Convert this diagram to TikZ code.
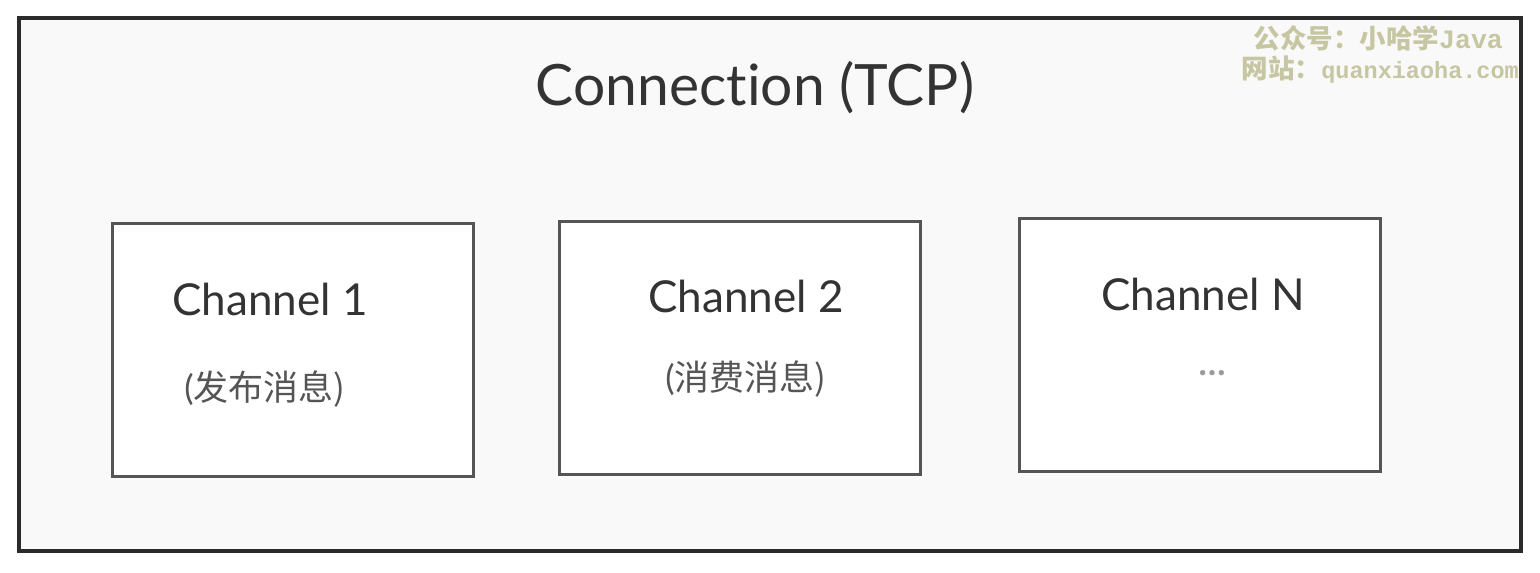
\documentclass[tikz,border=0pt]{standalone}
\usepackage{fontspec}
\setmainfont{Lato}[Ligatures=NoCommon]
\newfontfamily\cjk{Noto Sans CJK SC}
\newfontfamily\cjkbold{Noto Sans CJK SC Bold}
\newfontfamily\wmmono{Liberation Mono}
\definecolor{frameline}{HTML}{2B2B2B}
\definecolor{boxline}{HTML}{555555}
\definecolor{textdark}{HTML}{333333}
\definecolor{textgray}{HTML}{555555}
\definecolor{dotgray}{HTML}{999999}
\definecolor{bgpaper}{HTML}{F9F9F9}
\definecolor{watermark}{HTML}{C6C6A2}

\begin{document}
\begin{tikzpicture}[x=1pt, y=-1pt,
	conn/.style = {draw=frameline, line width=4pt, fill=bgpaper, minimum width=1502pt, minimum height=533pt, inner sep=0pt},
	chan/.style = {draw=boxline, line width=3pt, fill=white, minimum width=361pt, minimum height=253pt, inner sep=0pt},
	title/.style = {text=textdark, font=\fontsize{57}{64}\selectfont, anchor=base, inner sep=0pt},
	channame/.style = {text=textdark, font=\fontsize{44}{50}\selectfont, anchor=base, inner sep=0pt},
	chanrole/.style = {text=textgray, font=\fontsize{35}{40}\selectfont, anchor=base, inner sep=0pt},
	wmark/.style = {text=watermark, font=\fontsize{26.5}{30}\selectfont\bfseries, anchor=east, inner sep=0pt}]
		\useasboundingbox (0,0) rectangle (1540,573);
		% Verbindung
		\node[conn] (conn) at (770,284.5) {};
		\node[title] (conntitle) at (755,105) {Connection (TCP)};
		% Kanaele
		\node[chan] (chan1) at (292.5,349.5) {};
		\node[chan] (chan2) at (739.5,348) {};
		\node[chan] (chanN) at (1199.5,344.5) {};
		\node[channame] (name1) at (270,315) {Channel 1};
		\node[channame] (name2) at (746,312) {Channel 2};
		\node[channame] (nameN) at (1203,310) {Channel N};
		\node[chanrole] (role1) at (265,400) {(\cjk 发布消息)};
		\node[chanrole] (role2) at (746,390) {(\cjk 消费消息)};
		\node[chanrole, text=dotgray] (roleN) at (1212,375) {\textbf{…}};
		% Wasserzeichen
		\node[wmark] (wm1) at (1503,38) {\cjkbold 公众号：小哈学\wmmono Java};
		\node[wmark] (wm2) at (1519,70) {\cjkbold 网站：\wmmono\fontsize{23.5}{30}\selectfont quanxiaoha.com};
\end{tikzpicture}
\end{document}
